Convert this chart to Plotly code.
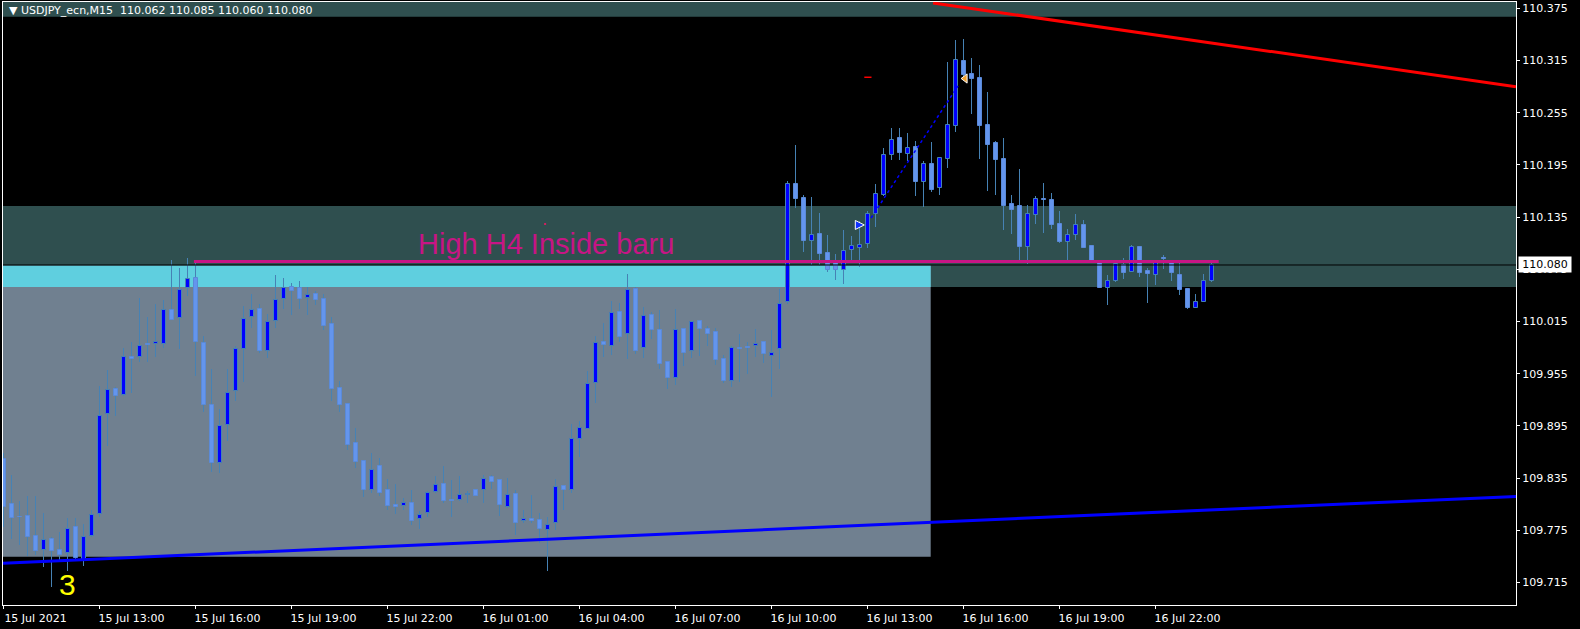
import plotly.graph_objects as go

# ---------------- data (USDJPY_ecn, M15, 15 Jul 10:00 .. 16 Jul 23:45) ----------------
opens = [109.857, 109.805, 109.790, 109.792, 109.769, 109.752, 109.765, 109.752, 109.749, 109.779,
         109.741, 109.769, 109.794, 109.909, 109.938, 109.931, 109.974, 109.974, 109.988, 109.989,
         109.989, 110.028, 110.019, 110.054, 110.065, 109.990, 109.919, 109.852, 109.896, 109.935,
         109.983, 110.020, 110.029, 109.981, 110.016, 110.041, 110.055, 110.054, 110.042, 110.047,
         110.041, 110.012, 109.939, 109.920, 109.875, 109.855, 109.821, 109.849, 109.821, 109.804,
         109.803, 109.807, 109.788, 109.795, 109.819, 109.828, 109.810, 109.810, 109.816, 109.821,
         109.821, 109.836, 109.833, 109.802, 109.817, 109.786, 109.788, 109.787, 109.776, 109.784,
         109.826, 109.821, 109.880, 109.892, 109.944, 109.992, 109.987, 110.026, 110.001, 110.052,
         109.985, 110.023, 110.005, 109.969, 109.950, 110.006, 109.981, 110.016, 110.006, 110.003,
         109.972, 109.947, 109.984, 109.985, 109.987, 109.992, 109.976, 109.983, 110.037, 110.173,
         110.157, 110.108, 110.116, 110.094, 110.083, 110.074, 110.097, 110.100, 110.104, 110.139,
         110.161, 110.206, 110.226, 110.208, 110.216, 110.175, 110.196, 110.168, 110.202, 110.240,
         110.314, 110.300, 110.295, 110.241, 110.220, 110.202, 110.150, 110.148, 110.101, 110.138,
         110.155, 110.155, 110.127, 110.106, 110.115, 110.126, 110.102, 110.083, 110.054, 110.062,
         110.080, 110.072, 110.101, 110.073, 110.068, 110.087, 110.082, 110.069, 110.052, 110.031,
         110.038, 110.062]
highs = [109.864, 109.839, 109.809, 109.815, 109.815, 109.795, 109.767, 109.773, 109.789, 109.789,
         109.782, 109.798, 109.941, 109.959, 109.940, 109.985, 109.992, 110.042, 110.020, 110.035,
         110.040, 110.086, 110.077, 110.088, 110.083, 109.998, 109.960, 109.914, 109.961, 109.987,
         110.033, 110.047, 110.035, 110.024, 110.068, 110.065, 110.059, 110.062, 110.055, 110.050,
         110.047, 110.020, 109.947, 109.920, 109.893, 109.855, 109.864, 109.858, 109.834, 109.828,
         109.812, 109.821, 109.797, 109.820, 109.837, 109.849, 109.833, 109.837, 109.820, 109.822,
         109.839, 109.839, 109.833, 109.835, 109.821, 109.799, 109.816, 109.795, 109.791, 109.834,
         109.827, 109.897, 109.901, 109.958, 109.998, 110.013, 110.039, 110.036, 110.070, 110.055,
         110.032, 110.026, 110.028, 109.970, 110.029, 110.006, 110.016, 110.016, 110.010, 110.008,
         109.977, 109.987, 110.001, 109.992, 110.006, 109.993, 110.005, 110.052, 110.176, 110.218,
         110.161, 110.158, 110.140, 110.115, 110.093, 110.120, 110.113, 110.131, 110.142, 110.173,
         110.214, 110.237, 110.237, 110.232, 110.223, 110.199, 110.221, 110.203, 110.313, 110.339,
         110.340, 110.318, 110.310, 110.279, 110.223, 110.226, 110.160, 110.190, 110.149, 110.159,
         110.174, 110.163, 110.142, 110.121, 110.139, 110.132, 110.102, 110.083, 110.069, 110.082,
         110.088, 110.103, 110.102, 110.077, 110.084, 110.092, 110.085, 110.082, 110.054, 110.047,
         110.070, 110.085]
lows = [109.779, 109.765, 109.758, 109.746, 109.747, 109.733, 109.710, 109.741, 109.728, 109.741,
        109.734, 109.768, 109.790, 109.872, 109.906, 109.930, 109.933, 109.968, 109.969, 109.974,
        109.985, 110.017, 109.983, 110.044, 109.952, 109.911, 109.842, 109.841, 109.878, 109.924,
        109.946, 110.008, 109.979, 109.973, 110.008, 110.029, 110.023, 110.029, 110.023, 110.034,
        110.005, 109.924, 109.911, 109.867, 109.847, 109.813, 109.818, 109.815, 109.798, 109.794,
        109.799, 109.781, 109.777, 109.790, 109.818, 109.807, 109.790, 109.809, 109.806, 109.814,
        109.807, 109.823, 109.792, 109.801, 109.770, 109.783, 109.783, 109.760, 109.728, 109.775,
        109.798, 109.818, 109.859, 109.892, 109.921, 109.974, 109.977, 109.992, 109.972, 109.978,
        109.973, 109.995, 109.960, 109.937, 109.942, 109.964, 109.973, 109.975, 109.987, 109.965,
        109.944, 109.940, 109.945, 109.955, 109.974, 109.967, 109.928, 109.960, 110.035, 110.146,
        110.095, 110.079, 110.079, 110.072, 110.063, 110.058, 110.082, 110.078, 110.100, 110.124,
        110.159, 110.201, 110.201, 110.200, 110.159, 110.147, 110.164, 110.160, 110.191, 110.233,
        110.297, 110.254, 110.202, 110.165, 110.160, 110.120, 110.116, 110.086, 110.081, 110.127,
        110.117, 110.121, 110.105, 110.086, 110.109, 110.099, 110.085, 110.053, 110.034, 110.061,
        110.064, 110.072, 110.066, 110.036, 110.057, 110.075, 110.062, 110.046, 110.030, 110.031,
        110.038, 110.060]
closes = [109.802, 109.789, 109.790, 109.767, 109.751, 109.764, 109.751, 109.747, 109.777, 109.743,
          109.767, 109.793, 109.907, 109.936, 109.930, 109.974, 109.972, 109.987, 109.988, 109.991,
          110.028, 110.017, 110.051, 110.064, 109.991, 109.919, 109.853, 109.895, 109.933, 109.984,
          110.018, 110.028, 109.981, 110.015, 110.040, 110.054, 110.050, 110.041, 110.045, 110.040,
          110.010, 109.937, 109.919, 109.873, 109.854, 109.821, 109.844, 109.818, 109.803, 109.802,
          109.807, 109.786, 109.793, 109.818, 109.827, 109.809, 109.809, 109.816, 109.817, 109.815,
          109.834, 109.831, 109.804, 109.816, 109.784, 109.788, 109.786, 109.777, 109.781, 109.825,
          109.821, 109.880, 109.893, 109.943, 109.990, 109.988, 110.025, 109.997, 110.051, 109.981,
          110.021, 110.005, 109.966, 109.950, 110.005, 109.979, 110.014, 110.006, 110.001, 109.971,
          109.947, 109.985, 109.984, 109.985, 109.989, 109.978, 109.979, 110.035, 110.173, 110.156,
          110.108, 110.115, 110.093, 110.074, 110.074, 110.096, 110.102, 110.103, 110.139, 110.162,
          110.206, 110.224, 110.209, 110.214, 110.175, 110.196, 110.166, 110.203, 110.241, 110.315,
          110.298, 110.294, 110.240, 110.218, 110.201, 110.148, 110.143, 110.101, 110.139, 110.156,
          110.155, 110.126, 110.106, 110.115, 110.126, 110.100, 110.085, 110.054, 110.062, 110.081,
          110.071, 110.101, 110.071, 110.070, 110.082, 110.087, 110.071, 110.051, 110.031, 110.038,
          110.062, 110.080]

time_tick_bars = [0, 12, 24, 36, 48, 60, 72, 84, 96, 108, 120, 132, 144]
time_tick_labels = ["15 Jul 2021", "15 Jul 13:00", "15 Jul 16:00", "15 Jul 19:00", "15 Jul 22:00",
                    "16 Jul 01:00", "16 Jul 04:00", "16 Jul 07:00", "16 Jul 10:00", "16 Jul 13:00",
                    "16 Jul 16:00", "16 Jul 19:00", "16 Jul 22:00"]
price_ticks = [109.715, 109.775, 109.835, 109.895, 109.955, 110.015, 110.075,
               110.135, 110.195, 110.255, 110.315, 110.375]

# objects on the chart (bar index, price)
header_band_low = 110.3653
zone_band = [110.0547, 110.1478]
gray_box = [109.7448, 110.0794]
box_right_bar = 115.9
h4_high = 110.084
last_price = 110.080
h4_line_bars = [23.8, 151.9]
red_line = ([116.19, 189.06], [110.3811, 110.2849])
blue_line = ([-0.06, 189.06], [109.7372, 109.8141])
dotted_line = ([108.44, 119.31], [110.134, 110.2857])
red_dash = ([107.6, 108.5], [110.2957, 110.2957])

XR = [-0.0625, 189.0625]
YR = [109.6893, 110.3822]

idx = list(range(len(opens)))
bull_x, bull_base, bull_h = [], [], []
bear_x, bear_base, bear_h = [], [], []
for i in idx:
    o, c = opens[i], closes[i]
    h = max(abs(c - o), 0.0007)
    if c > o:
        bull_x.append(i); bull_base.append(o); bull_h.append(h)
    else:
        bear_x.append(i); bear_base.append(min(o, c)); bear_h.append(h)

WICK = "#4682B4"
fig = go.Figure()
fig.add_trace(go.Bar(x=idx, y=[hh - ll for hh, ll in zip(highs, lows)], base=lows,
                     width=0.125, marker=dict(color=WICK, line=dict(width=0)), showlegend=False))
fig.add_trace(go.Bar(x=bear_x, y=bear_h, base=bear_base, width=0.5,
                     marker=dict(color="#6495ED", line=dict(color="#5A8AD8", width=1)), showlegend=False))
fig.add_trace(go.Bar(x=bull_x, y=bull_h, base=bull_base, width=0.5,
                     marker=dict(color="#0000FF", line=dict(color=WICK, width=1)), showlegend=False))

# trend lines
fig.add_trace(go.Scatter(x=blue_line[0], y=blue_line[1], mode="lines",
                         line=dict(color="#0000FF", width=3), showlegend=False, hoverinfo="skip"))
fig.add_trace(go.Scatter(x=red_line[0], y=red_line[1], mode="lines",
                         line=dict(color="#FF0000", width=3), showlegend=False, hoverinfo="skip"))
fig.add_trace(go.Scatter(x=dotted_line[0], y=dotted_line[1], mode="lines",
                         line=dict(color="#0000FF", width=1.5, dash="dot"), showlegend=False, hoverinfo="skip"))
fig.add_trace(go.Scatter(x=red_dash[0], y=red_dash[1], mode="lines",
                         line=dict(color="#FF0000", width=1.5), showlegend=False, hoverinfo="skip"))
# arrows / marks
fig.add_trace(go.Scatter(x=[107.6], y=[110.126], mode="markers",
                         marker=dict(symbol="arrow-right", size=9, color="#1030FF",
                                     line=dict(color="white", width=1)), showlegend=False, hoverinfo="skip"))
fig.add_trace(go.Scatter(x=[120.2], y=[110.2943], mode="markers",
                         marker=dict(symbol="triangle-left", size=8, color="#F0A030",
                                     line=dict(color="white", width=1)), showlegend=False, hoverinfo="skip"))
fig.add_trace(go.Scatter(x=[67.7], y=[110.1271], mode="markers",
                         marker=dict(symbol="square", size=2, color="#D02060"), showlegend=False, hoverinfo="skip"))

shapes = [
    dict(type="rect", xref="paper", yref="y", x0=0, x1=1, y0=header_band_low, y1=YR[1],
         fillcolor="#2F4F4F", line=dict(width=0), layer="below"),
    dict(type="rect", xref="paper", yref="y", x0=0, x1=1, y0=zone_band[0], y1=zone_band[1],
         fillcolor="#2F4F4F", line=dict(width=0), layer="below"),
    dict(type="rect", xref="x", yref="y", x0=-2, x1=box_right_bar, y0=gray_box[0], y1=gray_box[1],
         fillcolor="#708090", line=dict(width=0), layer="below"),
    dict(type="rect", xref="x", yref="y", x0=-2, x1=box_right_bar, y0=zone_band[0], y1=gray_box[1],
         fillcolor="#5FCFDF", line=dict(width=0), layer="below"),
    dict(type="line", xref="paper", yref="y", x0=0, x1=1, y0=last_price, y1=last_price,
         line=dict(color="black", width=1), layer="above"),
    dict(type="line", xref="x", yref="y", x0=h4_line_bars[0], x1=h4_line_bars[1], y0=h4_high, y1=h4_high,
         line=dict(color="#C71585", width=3), layer="above"),
]

annotations = [
    dict(xref="paper", yref="paper", x=0.0024, y=1 - 8 / 603, xanchor="left", yanchor="middle",
         text="▼\u00a0USDJPY_ecn,M15\u00a0\u00a0110.062\u00a0110.085\u00a0110.060\u00a0110.080",
         showarrow=False, font=dict(family="DejaVu Sans", size=11, color="white")),
    dict(xref="x", yref="y", x=51.65, y=110.1041, xanchor="left", yanchor="middle", xshift=-1,
         text="High H4 Inside baru", showarrow=False,
         font=dict(family="Liberation Sans, Arial", size=29, color="#C71585")),
    dict(xref="x", yref="y", x=8, y=109.7134, xanchor="center", yanchor="middle",
         text="3", showarrow=False, font=dict(family="Liberation Sans, Arial", size=30, color="#FFFF00")),
    dict(xref="paper", yref="y", x=1.0013, y=last_price, xanchor="left", yanchor="middle",
         text="110.080", showarrow=False, bgcolor="white", width=50, height=13, borderpad=1,
         font=dict(family="DejaVu Sans", size=11, color="black")),
]

fig.update_layout(
    template="none",
    width=1580, height=629,
    margin=dict(l=3, r=64, t=2, b=24, autoexpand=False),
    paper_bgcolor="black", plot_bgcolor="black",
    barmode="overlay", bargap=0,
    shapes=shapes, annotations=annotations,
    showlegend=False,
    xaxis=dict(range=XR, tickvals=time_tick_bars, ticktext=time_tick_labels, automargin=False,
               showgrid=False, zeroline=False, showline=True, linecolor="white", linewidth=1,
               mirror=True, ticks="outside", ticklen=3, tickcolor="white", ticklabelshift=32,
               ticklabelstandoff=0,
               tickfont=dict(family="DejaVu Sans", size=11, color="white"), fixedrange=True),
    yaxis=dict(range=YR, side="right", tickvals=price_ticks, ticktext=[f"{p:.3f}" for p in price_ticks],
               automargin=False,
               showgrid=False, zeroline=False, showline=True, linecolor="white", linewidth=1,
               mirror=True, ticks="outside", ticklen=3, tickcolor="white",
               tickfont=dict(family="DejaVu Sans", size=11, color="white"), fixedrange=True),
)

fig.write_html("out.html", config={"displayModeBar": False},
               post_script="document.body.style.margin='0px';document.body.style.background='black';")
